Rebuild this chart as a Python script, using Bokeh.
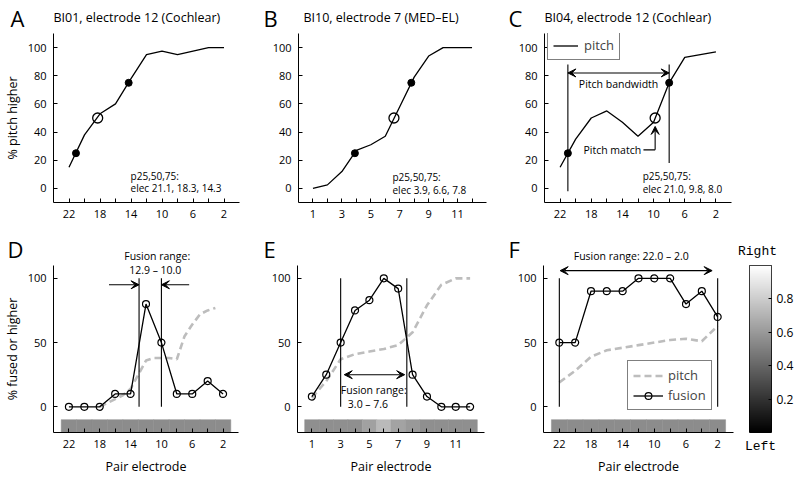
import numpy as np
from bokeh.plotting import figure
from bokeh.models import (Range1d, FixedTicker, Label, Arrow, VeeHead, Legend, LegendItem,
                          LinearColorMapper, ColumnDataSource)
from bokeh.transform import linear_cmap
from bokeh.layouts import row, column
from bokeh.embed import file_html
from bokeh.resources import INLINE

FONT = "Open Sans"
MONO = "Liberation Mono"

# ---------------- data ----------------
even_elec = [22, 20, 18, 16, 14, 12, 10, 8, 6, 4, 2]
medel_elec = [1, 2, 3, 4, 5, 6, 7, 8, 9, 10, 11, 12]

even_major = [22, 18, 14, 10, 6, 2]
even_minor = [20, 16, 12, 8, 4]
medel_major = [1, 3, 5, 7, 9, 11]
medel_minor = [2, 4, 6, 8, 10, 12]
top_yticks = [0, 20, 40, 60, 80, 100]
bot_yticks = [0, 50, 100]
cbar_ticks = [0.2, 0.4, 0.6, 0.8]

# A: BI01, electrode 12 (Cochlear)
a_pitch = [15, 38, 53, 60, 78, 95, 97.5, 95, 97.5, 100, 100]
a_pct_elec = [21.1, 18.3, 14.3]
# B: BI10, electrode 7 (MED-EL)
b_pitch = [0, 2.5, 12, 27, 31, 37, 58, 79, 94, 100, 100, 100]
b_pct_elec = [3.9, 6.6, 7.8]
# C: BI04, electrode 12 (Cochlear)
c_pitch = [15, 35, 50, 55, 47, 37, 47, 75, 93, 95, 97]
c_pct_elec = [21.0, 9.8, 8.0]
pct_vals = [25, 50, 75]

# D
d_fusion = [0, 0, 0, 10, 10, 80, 50, 10, 10, 20, 10]
d_pitch_elec = [18, 17, 16, 15, 14, 13, 12, 11, 10, 9, 8, 7, 6, 5, 4, 3]
d_pitch = [0, 3, 6, 9, 14, 25, 36, 38, 38, 38, 37, 55, 64, 72, 75, 77]
d_range = [12.9, 10.0]
d_lat = [0.55, 0.55, 0.55, 0.55, 0.55, 0.55, 0.55, 0.55, 0.55, 0.55, 0.55]
# E
e_fusion = [8, 25, 50, 75, 83, 100, 92, 25, 8, 0, 0, 0]
e_pitch = [7, 20, 37, 41, 43, 45, 48, 58, 79, 95, 100, 100]
e_range = [3.0, 7.6]
e_lat = [0.56, 0.56, 0.56, 0.56, 0.63, 0.73, 0.64, 0.60, 0.56, 0.56, 0.56, 0.56]
# F
f_fusion = [50, 50, 90, 90, 90, 100, 100, 100, 80, 90, 70]
f_pitch = [19, 28, 39, 44, 46, 48, 50, 52, 53, 51, 63]
f_range = [22.0, 2.0]
f_lat = [0.55, 0.55, 0.55, 0.55, 0.55, 0.55, 0.55, 0.55, 0.55, 0.55, 0.55]

GRAYS = ["#%02x%02x%02x" % (i, i, i) for i in range(256)]
PITCH_GRAY = "#bdbdbd"
W = 800


def make_fig(width, height, xr, yr, bl, br, bt, bb, **kw):
    p = figure(width=width, height=height, x_range=Range1d(*xr), y_range=Range1d(*yr),
               output_backend="svg", toolbar_location=None, title=None,
               min_border_left=bl, min_border_right=br, min_border_top=bt,
               min_border_bottom=bb, **kw)
    p.outline_line_color = None
    p.background_fill_color = "white"
    p.border_fill_color = "white"
    p.xgrid.visible = False
    p.ygrid.visible = False
    return p


def style_axes(p, xmaj, xmin, yt, xlabel=None, ylabel=None):
    for ax in list(p.xaxis) + list(p.yaxis):
        ax.axis_line_color = "black"
        ax.axis_line_width = 1
        ax.major_tick_in = 4
        ax.major_tick_out = 0
        ax.minor_tick_in = 4
        ax.minor_tick_out = 0
        ax.major_tick_line_color = "black"
        ax.minor_tick_line_color = "black"
        ax.major_label_text_font = FONT
        ax.major_label_text_font_size = "11px"
        ax.major_label_text_color = "black"
        ax.axis_label_text_font = FONT
        ax.axis_label_text_font_size = "12.5px"
        ax.axis_label_text_font_style = "normal"
        ax.axis_label_text_color = "black"
    p.xaxis.ticker = FixedTicker(ticks=xmaj, minor_ticks=xmin)
    p.yaxis.ticker = FixedTicker(ticks=yt)
    p.xaxis.major_label_standoff = 7
    p.yaxis.major_label_standoff = 7
    p.xaxis.axis_label_standoff = 7
    p.yaxis.axis_label_standoff = 4
    if xlabel:
        p.xaxis.axis_label = xlabel
    if ylabel:
        p.yaxis.axis_label = ylabel


def lab(p, x, y, text, size="10.5px", align="left", baseline="middle", font=FONT):
    p.add_layout(Label(x=x, y=y, text=text, text_font=font, text_font_size=size,
                       text_align=align, text_baseline=baseline, text_color="black"))


def head():
    return VeeHead(size=8, line_color="black", fill_color="black", line_width=1)


def arrow(p, x0, y0, x1, y1, both=False):
    p.add_layout(Arrow(x_start=x0, y_start=y0, x_end=x1, y_end=y1,
                       start=head() if both else None, end=head(),
                       line_color="black", line_width=1.1))


def header_strip(height):
    # a blank strip whose data coordinates are pixels, for texts above the panels
    h = make_fig(W, height, (0, W), (0, height), 0, 0, 0, 0,
                 x_axis_location=None, y_axis_location=None)
    return h


mapper = LinearColorMapper(palette=GRAYS, low=0, high=1)

# ---------------- top header ----------------
TOP_HDR = 33
hdr1 = header_strip(TOP_HDR)
for lx, letter, tx, title in [(10, "A", 53, "BI01, electrode 12 (Cochlear)"),
                              (263, "B", 303, "BI10, electrode 7 (MED\u2013EL)"),
                              (508, "C", 544, "BI04, electrode 12 (Cochlear)")]:
    lab(hdr1, lx, 15.3, letter, size="22px", baseline="alphabetic")
    lab(hdr1, tx, 16.5, title, size="12.5px", baseline="alphabetic")

# ---------------- top row ----------------
TOP_H = 199


def pitch_panel(width, bl, br, xr, xmaj, xmin, elec, pitch, pct_elec, ylabel=None):
    p = make_fig(width, TOP_H, xr, (-10, 110), bl, br, 0, 30)
    style_axes(p, xmaj, xmin, top_yticks, ylabel=ylabel)
    r = p.line(elec, pitch, line_color="black", line_width=1.3)
    p.scatter([pct_elec[0], pct_elec[2]], [pct_vals[0], pct_vals[2]], marker="circle",
              size=7, fill_color="black", line_color="black")
    p.scatter([pct_elec[1]], [pct_vals[1]], marker="circle", size=10,
              fill_color=None, line_color="black", line_width=1.3)
    return p, r


pA, _ = pitch_panel(254, 52, 15, (24, 0), even_major, even_minor, even_elec, a_pitch,
                    a_pct_elec, ylabel="% pitch higher")
lab(pA, 14.05, 9, "p25,50,75:", size="10px")
lab(pA, 14.05, 0, "elec 21.1, 18.3, 14.3", size="10px")

pB, _ = pitch_panel(246, 44, 14, (0, 13), medel_major, medel_minor, medel_elec, b_pitch,
                    b_pct_elec)
lab(pB, 6.5, 8, "p25,50,75:", size="10px")
lab(pB, 6.5, -1, "elec 3.9, 6.6, 7.8", size="10px")

pC, rC = pitch_panel(300, 44, 69, (24, 0), even_major, even_minor, even_elec, c_pitch,
                     c_pct_elec)
pC.segment(x0=[c_pct_elec[0], c_pct_elec[2]], y0=[-2, 18],
           x1=[c_pct_elec[0], c_pct_elec[2]], y1=[88, 88], line_color="black", line_width=1.1)
arrow(pC, c_pct_elec[0], 82, c_pct_elec[2], 82, both=True)
lab(pC, 14.5, 74, "Pitch bandwidth", align="center")
lab(pC, 11.6, 27.4, "Pitch match", align="right")
pC.line([11.3, c_pct_elec[1]], [27.4, 27.4], line_color="black", line_width=1.1)
arrow(pC, c_pct_elec[1], 27.4, c_pct_elec[1], 44)
lab(pC, 11.4, 8.5, "p25,50,75:", size="10px")
lab(pC, 11.4, -0.5, "elec 21.0, 9.8, 8.0", size="10px")
legC = Legend(items=[LegendItem(label="pitch", renderers=[rC])], location=(3, 142),
              margin=0, padding=5, spacing=2, glyph_width=25, glyph_height=17,
              label_height=17, label_standoff=6, label_text_font=FONT,
              label_text_font_size="13px", border_line_color="black",
              border_line_width=1, background_fill_color="white", background_fill_alpha=1)
pC.add_layout(legC)

# ---------------- bottom header ----------------
BOT_HDR = 31
hdr2 = header_strip(BOT_HDR)
for lx, letter in [(7, "D"), (263, "E"), (508, "F")]:
    lab(hdr2, lx, 14.8, letter, size="22px", baseline="alphabetic")
lab(hdr2, 156.7, 8, "Fusion range:", align="center")
lab(hdr2, 630.7, 8, "Fusion range: 22.0 \u2013 2.0", align="center")
lab(hdr2, 757, 12.5, "Right", size="13px", align="center", baseline="alphabetic",
    font=MONO)

# ---------------- bottom row ----------------
BOT_H = 217


def fusion_panel(width, bl, br, xr, xmaj, xmin, elec, fusion, pitch_x, pitch, lat, barw,
                 ylabel=None):
    p = make_fig(width, BOT_H, xr, (-20, 110), bl, br, 0, 48)
    style_axes(p, xmaj, xmin, bot_yticks, xlabel="Pair electrode", ylabel=ylabel)
    src = ColumnDataSource(dict(x=elec, lat=lat))
    p.rect(x="x", y=-15, width=barw, height=10, source=src,
           fill_color=linear_cmap("lat", GRAYS, 0, 1), line_color=linear_cmap("lat", GRAYS, 0, 1),
           line_width=0.5)
    rp = p.line(pitch_x, pitch, line_color=PITCH_GRAY, line_width=2.6, line_dash="7 4")
    rf = p.line(elec, fusion, line_color="black", line_width=1.3)
    rm = p.scatter(elec, fusion, marker="circle", size=7, fill_color=None,
                   line_color="black", line_width=1.2)
    return p, rp, rf, rm


pD, _, _, _ = fusion_panel(253, 52, 15, (24, 0), even_major, even_minor, even_elec, d_fusion,
                           d_pitch_elec, d_pitch, d_lat, 2, ylabel="% fused or higher")
pD.segment(x0=d_range, y0=[0, 0], x1=d_range, y1=[100, 100], line_color="black", line_width=1.1)
arrow(pD, 16.8, 95, d_range[0], 95)
arrow(pD, 6.4, 95, d_range[1], 95)
lab(pD, 10.8, 106.4, "12.9 \u2013 10.0", align="center")

pE, _, _, _ = fusion_panel(246, 44, 15, (0, 13), medel_major, medel_minor, medel_elec, e_fusion,
                           medel_elec, e_pitch, e_lat, 1)
pE.segment(x0=e_range, y0=[0, 0], x1=e_range, y1=[100, 100], line_color="black", line_width=1.1)
arrow(pE, 3.25, 25, 7.45, 25, both=True)
lab(pE, 5.3, 12.7, "Fusion range:", align="center")
lab(pE, 4.9, 2.5, "3.0 \u2013 7.6", align="center")

pF, rpF, rfF, rmF = fusion_panel(239, 44, 5, (24, 0), even_major, even_minor, even_elec,
                                 f_fusion, even_elec, f_pitch, f_lat, 2)
pF.segment(x0=f_range, y0=[0, 0], x1=f_range, y1=[100, 100], line_color="black", line_width=1.1)
arrow(pF, 21.9, 106, 2.7, 106, both=True)
legF = Legend(items=[LegendItem(label="pitch", renderers=[rpF]),
                     LegendItem(label="fusion", renderers=[rfF, rmF])],
              location=(84, 22), margin=0, padding=5, spacing=2, glyph_width=30,
              glyph_height=17, label_height=17, label_standoff=5, label_text_font=FONT,
              label_text_font_size="13px", border_line_color="black", border_line_width=1,
              background_fill_color="white", background_fill_alpha=1)
pF.add_layout(legF)

# colorbar panel
pCB = make_fig(62, BOT_H, (0, 1), (0, 1), 11, 29, 2, 48, y_axis_location="right")
pCB.outline_line_color = "black"
pCB.outline_line_width = 1
ramp = np.linspace(0, 1, 256).reshape(256, 1)
pCB.image(image=[ramp], x=0, y=0, dw=1, dh=1, color_mapper=mapper)
yax = pCB.yaxis[0]
yax.ticker = FixedTicker(ticks=cbar_ticks)
yax.axis_line_color = None
yax.major_tick_in = 3
yax.major_tick_out = 0
yax.major_tick_line_color = "black"
yax.minor_tick_line_color = None
yax.major_label_standoff = 5
yax.major_label_text_font = FONT
yax.major_label_text_font_size = "12px"
yax.major_label_text_color = "black"
xax = pCB.xaxis[0]
xax.ticker = FixedTicker(ticks=[])
xax.axis_line_color = None
xax.major_tick_line_color = None
xax.minor_tick_line_color = None
xax.major_label_standoff = 0
xax.axis_label = "Left"
xax.axis_label_standoff = 6
xax.axis_label_text_font = MONO
xax.axis_label_text_font_size = "13px"
xax.axis_label_text_font_style = "normal"
xax.axis_label_text_color = "black"

layout = column(hdr1, row(pA, pB, pC), hdr2, row(pD, pE, pF, pCB))
open("out.html", "w").write(file_html(layout, INLINE))
